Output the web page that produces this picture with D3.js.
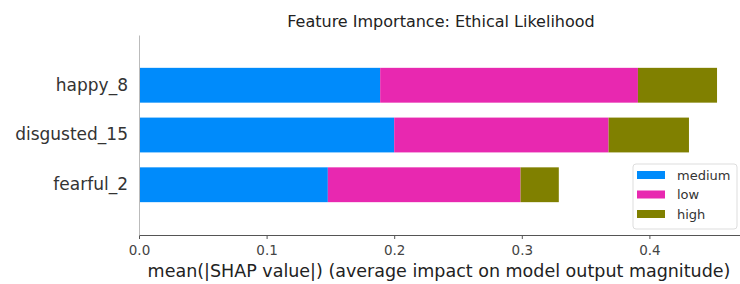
<!DOCTYPE html>
<html lang="en">
<head>
<meta charset="UTF-8">
<script src="https://d3js.org/d3.v7.min.js"></script>
<style>
  body { margin: 0; background: #fff; }
  svg text { font-family: "DejaVu Sans", sans-serif; }
</style>
</head>
<body>
<div id="chart"></div>
<script>
  const features = ["happy_8", "disgusted_15", "fearful_2"];
  const classes = ["medium", "low", "high"];
  const medium = [0.189, 0.200, 0.148];
  const low = [0.202, 0.168, 0.151];
  const high = [0.062, 0.063, 0.030];
  const xTicks = [0.0, 0.1, 0.2, 0.3, 0.4];
  const colors = ["#008bfb", "#e828b0", "#808000"];

  const width = 740, height = 284;
  const margin = { top: 35, right: 0, bottom: 49, left: 139 };
  const innerW = width - margin.left - margin.right;
  const innerH = height - margin.top - margin.bottom;

  const rows = features.map((f, i) => ({ feature: f, medium: medium[i], low: low[i], high: high[i] }));
  const stacked = d3.stack().keys(classes)(rows);

  const svg = d3.select("#chart").append("svg")
      .attr("width", width).attr("height", height);

  const g = svg.append("g").attr("transform", `translate(${margin.left},${margin.top})`);

  const x = d3.scaleLinear().domain([0, 0.471]).range([0, innerW]);
  const y = d3.scaleBand().domain(features).range([0, innerH]).paddingInner(0.3).paddingOuter(0.66);

  const color = d3.scaleOrdinal().domain(classes).range(colors);

  g.selectAll(".layer")
    .data(stacked)
    .enter().append("g")
      .attr("fill", d => color(d.key))
    .selectAll("rect")
    .data(d => d)
    .enter().append("rect")
      .attr("x", d => x(d[0]))
      .attr("y", d => y(d.data.feature))
      .attr("width", d => x(d[1]) - x(d[0]))
      .attr("height", y.bandwidth());

  // x axis
  const xAxis = g.append("g")
      .attr("transform", `translate(0,${innerH})`)
      .call(d3.axisBottom(x).tickValues(xTicks).tickFormat(d3.format(".1f")).tickSize(4).tickSizeOuter(0));
  xAxis.select(".domain").attr("stroke", "#555");
  xAxis.selectAll(".tick line").attr("stroke", "#555");
  xAxis.selectAll(".tick text").attr("fill", "#444").attr("font-size", 13.5).attr("dy", "0.95em");

  // y axis (spine only, labels without ticks)
  const yAxis = g.append("g")
      .call(d3.axisLeft(y).tickSize(0).tickPadding(11));
  yAxis.select(".domain").attr("stroke", "#bbb");
  yAxis.selectAll(".tick text").attr("fill", "#333").attr("font-size", 17);

  svg.append("text")
      .attr("x", 441).attr("y", 27)
      .attr("text-anchor", "middle")
      .attr("font-size", 16)
      .attr("fill", "#222")
      .text("Feature Importance: Ethical Likelihood");

  svg.append("text")
      .attr("x", 439).attr("y", 277)
      .attr("text-anchor", "middle")
      .attr("font-size", 17.5)
      .attr("fill", "#222")
      .text("mean(|SHAP value|) (average impact on model output magnitude)");

  // legend
  const legend = svg.append("g").attr("transform", "translate(633,164)");
  legend.append("rect")
      .attr("width", 104).attr("height", 65).attr("rx", 3)
      .attr("fill", "#fff").attr("stroke", "#ddd");
  classes.forEach((c, i) => {
    legend.append("rect")
      .attr("x", 4).attr("y", 7 + i * 19.5)
      .attr("width", 28).attr("height", 8)
      .attr("fill", color(c));
    legend.append("text")
      .attr("x", 44).attr("y", 11 + i * 19.5)
      .attr("dy", "0.35em")
      .attr("font-size", 13)
      .attr("fill", "#333")
      .text(c);
  });
</script>
</body>
</html>
